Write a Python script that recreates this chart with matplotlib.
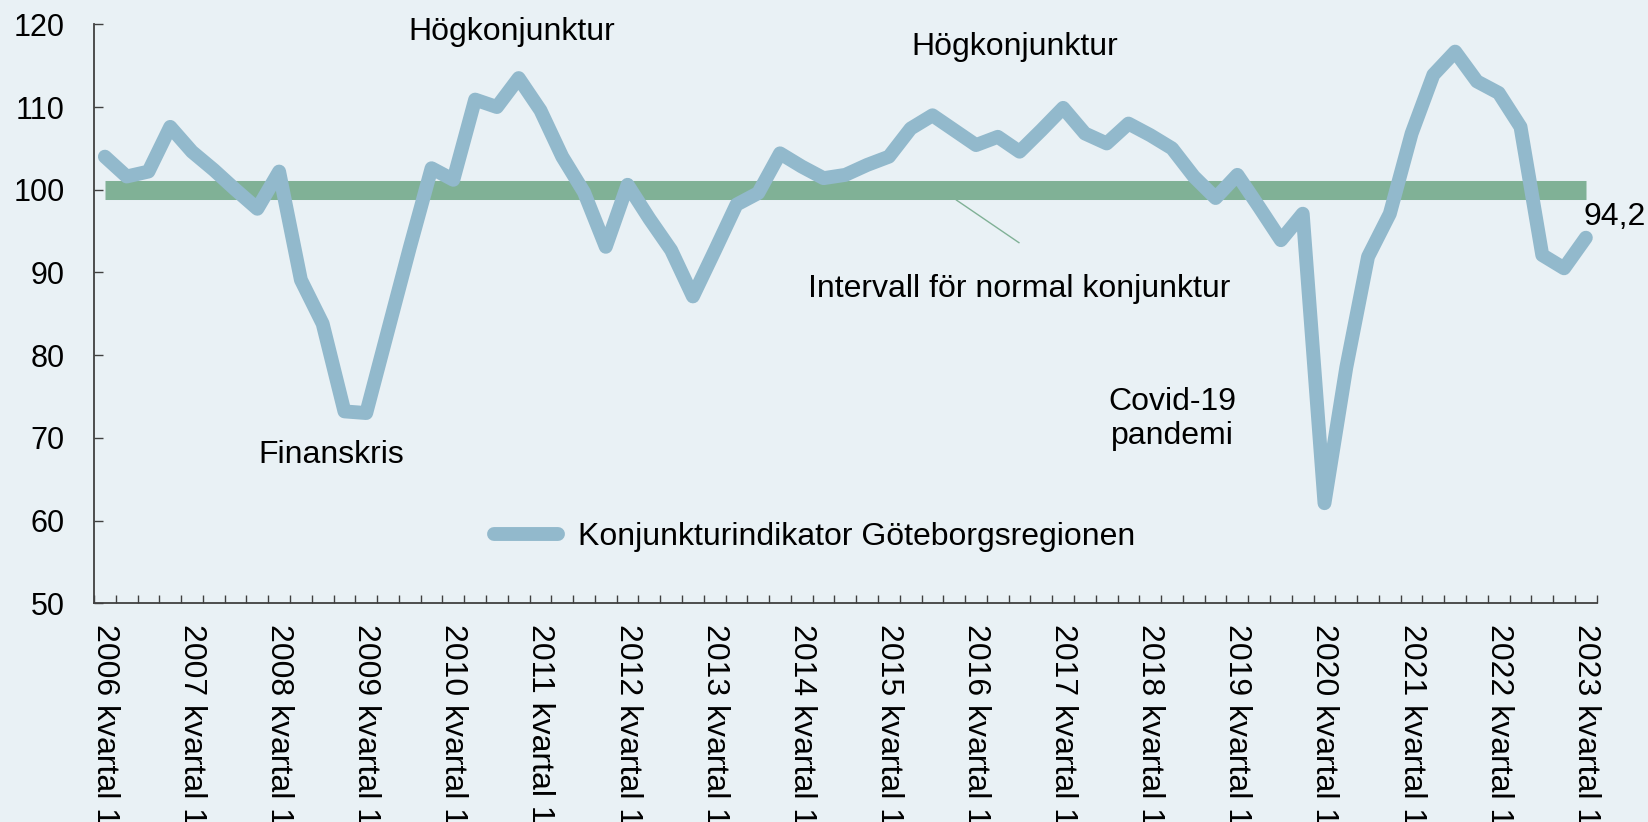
import matplotlib
matplotlib.use("Agg")
import matplotlib.pyplot as plt
import numpy as np

plt.rcParams['font.family'] = ['Liberation Sans', 'DejaVu Sans']

years = list(range(2006, 2024))
values = [
    104.0, 101.6, 102.2, 107.6,   # 2006
    104.6, 102.4, 100.0, 97.7,    # 2007
    102.2, 89.1, 83.8, 73.2,      # 2008
    73.0, 83.0, 93.0, 102.6,      # 2009
    101.2, 110.9, 110.0, 113.5,   # 2010
    109.6, 104.0, 99.7, 93.1,     # 2011
    100.6, 96.5, 92.7, 87.1,      # 2012
    92.6, 98.2, 99.6, 104.4,      # 2013
    102.8, 101.4, 101.8, 103.0,   # 2014
    104.0, 107.4, 109.0, 107.2,   # 2015
    105.4, 106.4, 104.6, 107.2,   # 2016
    109.9, 106.8, 105.6, 108.0,   # 2017
    106.6, 105.0, 101.6, 99.0,    # 2018
    101.8, 97.9, 93.9, 97.1,      # 2019
    62.1, 78.5, 91.9, 97.1,       # 2020
    106.8, 113.9, 116.7, 113.1,   # 2021
    111.7, 107.6, 92.1, 90.5,     # 2022
    94.2,                         # 2023
]
normal_level = 100
tick_labels = [f"{y} kvartal 1" for y in years]
series_name = "Konjunkturindikator Göteborgsregionen"
last_label = "94,2"

bg = '#E9F1F5'
blue = '#92B9CC'
green = '#80B196'
axcol = '#404040'

fig = plt.figure(figsize=(16.49, 8.22), dpi=100, facecolor=bg)
ax = fig.add_axes([0.057, 0.2661, 0.9113, 0.7043])
ax.set_facecolor(bg)

n = len(values)
x = np.arange(n)

ax.plot(x, [normal_level] * n, color=green, lw=13.7, solid_capstyle='butt', zorder=2)
ax.plot(x, values, color=blue, lw=10, solid_capstyle='round', solid_joinstyle='round',
        zorder=3, label=series_name)

ax.set_xlim(-0.5, n - 0.5)
ax.set_ylim(50, 120)
ax.set_yticks(np.arange(50, 121, 10))

ax.set_xticks(x[::4])
ax.set_xticklabels(tick_labels, rotation=270, fontsize=23, va='top', ha='center')
ax.set_xticks(np.arange(-0.5, n, 1), minor=True)
ax.tick_params(axis='x', which='major', length=0, pad=15)
ax.tick_params(axis='x', which='minor', direction='in', length=6, width=1.0, color=axcol)
ax.tick_params(axis='y', direction='in', length=6.7, width=1.0, color=axcol, labelsize=22, pad=21)

for s in ['top', 'right']:
    ax.spines[s].set_visible(False)
for s in ['left', 'bottom']:
    ax.spines[s].set_color(axcol)
    ax.spines[s].set_linewidth(1.3)

fs = 23
ax.text(18.7, 119.1, "Högkonjunktur", fontsize=fs, ha='center', va='center', clip_on=False)
ax.text(41.8, 117.3, "Högkonjunktur", fontsize=fs, ha='center', va='center')
ax.text(10.4, 67.9, "Finanskris", fontsize=fs, ha='center', va='center')
ax.text(42.0, 88.0, "Intervall för normal konjunktur", fontsize=fs, ha='center', va='center')
ax.text(49.0, 72.3, "Covid-19\npandemi", fontsize=fs, ha='center', va='center', linespacing=1.2)
ax.text(67.9, 96.7, last_label, fontsize=fs, ha='left', va='center', clip_on=False)
ax.plot([39.1, 41.97], [98.75, 93.6], color=green, lw=1.0, zorder=1)

leg = ax.legend(loc='center', bbox_to_anchor=(0.494, 0.347), bbox_transform=fig.transFigure,
                frameon=False, fontsize=fs, handlelength=2.0, handletextpad=0.6)

fig.savefig('out.png', dpi=100, facecolor=bg)
